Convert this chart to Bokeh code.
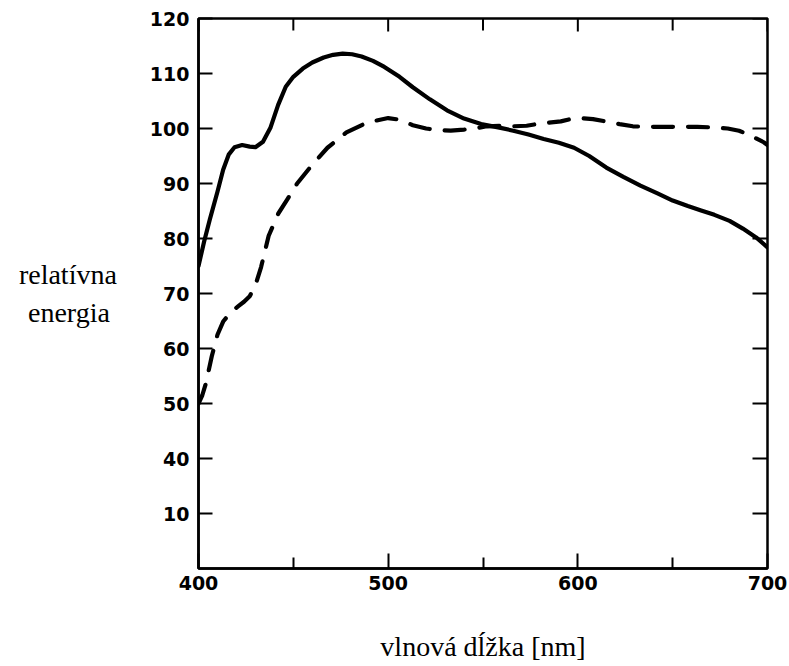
from bokeh.plotting import figure
from bokeh.models import FixedTicker, Range1d
from bokeh.embed import file_html
from bokeh.resources import INLINE

# Solid curve (relative energy vs wavelength)
wl_a = [400, 403, 406, 410, 413, 416, 419, 423, 427, 430, 434, 438, 442, 446, 450, 455,
        460, 466, 471, 476, 481, 486, 492, 498, 506, 513, 522, 531, 540, 549, 558, 566,
        574, 582, 590, 598, 606, 615, 624, 633, 642, 650, 658, 665, 672, 680, 687, 694, 700]
energy_a = [75, 79.5, 83.5, 88.5, 92.5, 95.3, 96.6, 97.0, 96.7, 96.6, 97.6, 100.2, 104.3,
            107.6, 109.4, 110.9, 112.0, 112.9, 113.4, 113.6, 113.5, 113.1, 112.3, 111.2,
            109.4, 107.5, 105.3, 103.3, 101.8, 100.8, 100.2, 99.6, 98.9, 98.1, 97.4, 96.5,
            95.0, 92.9, 91.2, 89.6, 88.2, 86.9, 85.9, 85.1, 84.3, 83.2, 81.8, 80.2, 78.4]

# Dashed curve
wl_b = [400, 402, 404, 407, 410, 413, 417, 421, 424, 427, 430, 433, 437, 442, 447, 452,
        459, 468, 478, 489, 500, 506, 513, 520, 526, 533, 540, 547, 552, 559, 566, 573,
        580, 586, 591, 596, 601, 608, 616, 622, 629, 637, 645, 654, 663, 671, 679, 685,
        690, 694, 698, 700]
energy_b = [50, 51.5, 53.8, 58.6, 62.5, 64.9, 66.6, 67.7, 68.5, 69.5, 71.5, 74.8, 80.5,
            84.5, 87.2, 90.0, 93.0, 96.5, 99.3, 101.1, 101.9, 101.6, 100.6, 100.0, 99.7,
            99.6, 99.8, 100.1, 100.4, 100.5, 100.4, 100.5, 100.9, 101.1, 101.3, 101.7,
            101.9, 101.7, 101.2, 100.8, 100.4, 100.3, 100.3, 100.3, 100.3, 100.2, 100.0,
            99.6, 98.9, 98.2, 97.5, 97.0]

x_major = [400, 500, 600, 700]
x_minor = [450, 550, 650]
# broken y axis: tick positions and their printed labels
y_tick_pos = [30, 40, 50, 60, 70, 80, 90, 100, 110, 120]
y_tick_labels = ["10", "40", "50", "60", "70", "80", "90", "100", "110", "120"]

X0, X1, Y0, Y1 = 400, 700, 20, 120

W, H = 789, 666
p = figure(width=W, height=H, output_backend="svg", toolbar_location=None,
           x_range=Range1d(X0, X1), y_range=Range1d(Y0, Y1),
           min_border_left=198, min_border_right=22, min_border_top=18,
           min_border_bottom=98)
p.grid.visible = False
p.outline_line_color = "black"
p.outline_line_width = 2.5
p.background_fill_color = "white"
p.border_fill_color = "white"

p.line(wl_a, energy_a, line_color="black", line_width=4.2, line_join="round", line_cap="round")
p.line(wl_b, energy_b, line_color="black", line_width=4.2, line_dash="20 15",
       line_join="round", line_cap="round")

# inward ticks on top and right edges (frame has no labelled axes there)
px_per_x = 569 / (X1 - X0)
px_per_y = 550 / (Y1 - Y0)
top_x = x_major + x_minor
top_len = [13 / px_per_y] * len(x_major) + [12 / px_per_y] * len(x_minor)
p.segment(x0=top_x, y0=[Y1] * len(top_x), x1=top_x, y1=[Y1 - l for l in top_len],
          line_color="black", line_width=2)
p.segment(x0=[X1] * len(y_tick_pos), y0=y_tick_pos,
          x1=[X1 - 15 / px_per_x] * len(y_tick_pos), y1=y_tick_pos,
          line_color="black", line_width=2)

tick_font = "DejaVu Sans"
title_font = "Liberation Serif"

def style(ax):
    ax.axis_line_width = 2.5
    ax.axis_line_color = "black"
    ax.major_tick_line_width = 2
    ax.minor_tick_line_width = 2
    ax.major_tick_out = 0
    ax.minor_tick_out = 0
    ax.major_label_text_font = tick_font
    ax.major_label_text_font_style = "bold"
    ax.major_label_text_font_size = "19px"
    ax.major_label_text_color = "black"
    ax.axis_label_text_font = title_font
    ax.axis_label_text_font_style = "normal"
    ax.axis_label_text_font_size = "28px"
    ax.axis_label_text_color = "black"

xb = p.xaxis[0]
xb.ticker = FixedTicker(ticks=x_major, minor_ticks=x_minor)
style(xb)
xb.major_tick_in = 15
xb.minor_tick_in = 11
xb.major_label_standoff = 7
xb.axis_label = "vlnová dĺžka [nm]"
xb.axis_label_standoff = 38

yl = p.yaxis[0]
yl.ticker = FixedTicker(ticks=y_tick_pos, minor_ticks=[])
yl.major_label_overrides = {pos: lab for pos, lab in zip(y_tick_pos, y_tick_labels)}
style(yl)
yl.major_tick_in = 14
yl.minor_tick_in = 0
yl.major_label_standoff = 9
yl.axis_label = "relatívna\nenergia\u00a0"
yl.axis_label_orientation = "horizontal"
yl.axis_label_standoff = 30

open("out.html", "w").write(file_html(p, INLINE))
